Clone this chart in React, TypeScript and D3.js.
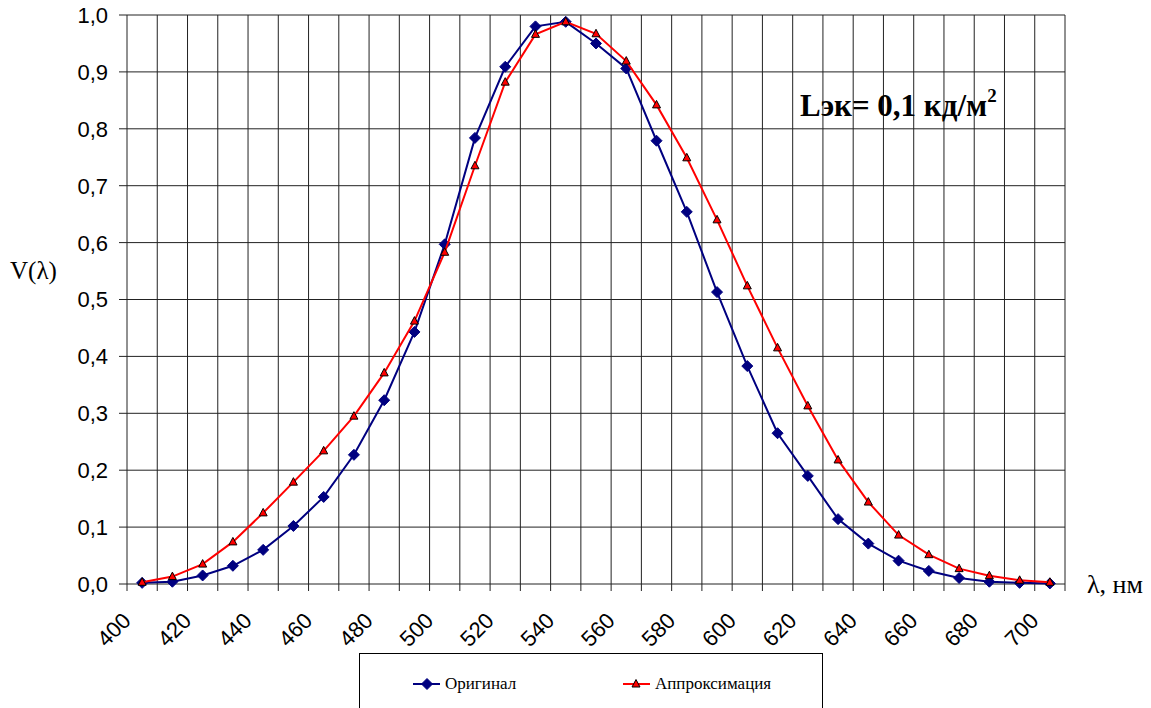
import React from 'react';
import * as d3 from 'd3';

// wavelengths, nm
const categories = [
  400, 410, 420, 430, 440, 450, 460, 470, 480, 490, 500, 510, 520, 530, 540, 550,
  560, 570, 580, 590, 600, 610, 620, 630, 640, 650, 660, 670, 680, 690, 700,
];
const xTickLabels = ['400', '420', '440', '460', '480', '500', '520', '540', '560', '580', '600', '620', '640', '660', '680', '700'];
const yTickValues = [0, 0.1, 0.2, 0.3, 0.4, 0.5, 0.6, 0.7, 0.8, 0.9, 1.0];

const original = [
  0.002, 0.004, 0.015, 0.032, 0.06, 0.102, 0.153, 0.227, 0.323, 0.443, 0.597,
  0.784, 0.909, 0.98, 0.988, 0.95, 0.906, 0.779, 0.654, 0.513, 0.383, 0.265,
  0.19, 0.114, 0.071, 0.041, 0.023, 0.0105, 0.004, 0.002, 0.001,
];
const approx = [
  0.003, 0.013, 0.035, 0.074, 0.125, 0.179, 0.234, 0.295, 0.371, 0.462, 0.583,
  0.735, 0.882, 0.966, 0.988, 0.967, 0.919, 0.842, 0.749, 0.64, 0.524, 0.415,
  0.313, 0.218, 0.144, 0.086, 0.0515, 0.027, 0.0146, 0.0065, 0.003,
];

const W = 1151;
const H = 708;
const left = 127;
const right = 1065;
const top = 15;
const bottom = 584;

const App = () => {
  const x = d3.scaleBand<number>().domain(categories).range([left, right]).padding(0);
  const y = d3.scaleLinear().domain([0, 1]).range([bottom, top]);
  const cx = (c: number) => (x(c) as number) + x.bandwidth() / 2;
  const fmt = (v: number) => v.toFixed(1).replace('.', ',');

  const boundaries = [...categories.map((c) => x(c) as number), right];

  const line = d3
    .line<number>()
    .x((_, i) => cx(categories[i]))
    .y((d) => y(d));

  const diamond = 'M0,-5.5L5.5,0L0,5.5L-5.5,0Z';
  const tri = 'M0,-4.5L4,3L-4,3Z';
  const serif = "'Liberation Serif', 'Times New Roman', serif";

  return (
    <svg width={W} height={H} style={{ position: 'absolute', left: 0, top: 0, background: '#fff' }}>
      {/* grid */}
      <g stroke="#222" strokeWidth={1}>
        {yTickValues.map((v) => (
          <line key={'h' + v} x1={left} x2={right} y1={y(v)} y2={y(v)} />
        ))}
        {boundaries.map((b, i) => (
          <line key={'v' + i} x1={b} x2={b} y1={top} y2={bottom} />
        ))}
        {yTickValues.map((v) => (
          <line key={'yt' + v} x1={left - 8} x2={left} y1={y(v)} y2={y(v)} />
        ))}
        {boundaries.map((b, i) => (
          <line key={'xt' + i} x1={b} x2={b} y1={bottom} y2={bottom + 7} />
        ))}
      </g>

      {/* tick labels */}
      <g fontFamily="'Liberation Sans', Arial, sans-serif" fontSize={22} fill="#000">
        {yTickValues.map((v) => (
          <text key={'yl' + v} x={108} y={y(v)} dy="0.36em" textAnchor="end">
            {fmt(v)}
          </text>
        ))}
        {xTickLabels.map((t) => {
          const px = cx(+t) - 10;
          const py = 622;
          return (
            <text key={'xl' + t} transform={`translate(${px},${py}) rotate(-45)`} textAnchor="end">
              {t}
            </text>
          );
        })}
      </g>

      {/* series */}
      <path d={line(original) ?? ''} fill="none" stroke="#000080" strokeWidth={2} />
      {original.map((v, i) => (
        <path key={'o' + i} d={diamond} transform={`translate(${cx(categories[i])},${y(v)})`} fill="#000080" stroke="#000080" />
      ))}
      <path d={line(approx) ?? ''} fill="none" stroke="#ff0000" strokeWidth={2} />
      {approx.map((v, i) => (
        <path key={'a' + i} d={tri} transform={`translate(${cx(categories[i])},${y(v)})`} fill="#ff0000" stroke="#000" strokeWidth={1} />
      ))}

      {/* axis titles */}
      <g fontFamily={serif} fill="#000">
        <text x={10} y={279} fontSize={25}>V(λ)</text>
        <text x={1087} y={593} fontSize={26}>λ, нм</text>
        <text x={800} y={116} fontSize={31} fontWeight="bold">
          Lэк= 0,1 кд/м<tspan dy={-14} fontSize={19}>2</tspan>
        </text>
      </g>

      {/* legend */}
      <rect x={359.5} y={653.5} width={463} height={70} fill="#fff" stroke="#000" strokeWidth={1} />
      <line x1={413} x2={440} y1={684} y2={684} stroke="#000080" strokeWidth={2} />
      <path d={diamond} transform="translate(427,684)" fill="#000080" stroke="#000080" />
      <text x={445} y={689} fontFamily={serif} fontSize={17}>Оригинал</text>
      <line x1={623} x2={650} y1={684} y2={684} stroke="#ff0000" strokeWidth={2} />
      <path d={tri} transform="translate(636,684)" fill="#ff0000" stroke="#000" />
      <text x={655} y={689} fontFamily={serif} fontSize={17}>Аппроксимация</text>
    </svg>
  );
};

export default App;
